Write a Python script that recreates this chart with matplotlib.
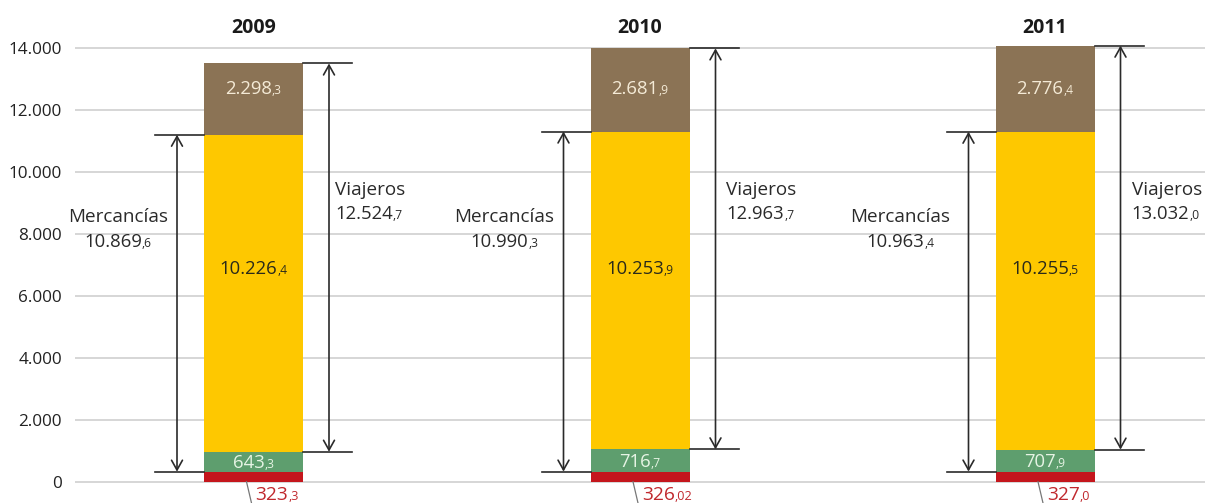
import matplotlib
matplotlib.use("Agg")
import matplotlib.pyplot as plt
from matplotlib.transforms import offset_copy
import numpy as np

# ---------------- data ----------------
years = ["2009", "2010", "2011"]
red_vals = [323.3, 326.02, 327.0]
red_decimals = [1, 2, 1]
green_vals = [643.3, 716.7, 707.9]
yellow_vals = [10226.4, 10253.9, 10255.5]
brown_vals = [2298.3, 2681.9, 2776.4]
mercancias = [10869.6, 10990.3, 10963.4]
viajeros = [12524.7, 12963.7, 13032.0]
yticks = [0, 2000, 4000, 6000, 8000, 10000, 12000, 14000]

# ---------------- layout / style ----------------
W, H, DPI = 1205, 503, 100
bar_pos = [253.5, 640.0, 1045.0]
merc_text_off = [86, 86, 95]
viaj_text_off = [32, 37, 37]
bar_w = 99
c_red, c_green, c_yellow, c_brown = "#c4161c", "#5e9e6e", "#fec800", "#8b7355"
line_c = "#2a2a2a"
FONT = "Open Sans"
plt.rcParams["font.family"] = [FONT, "DejaVu Sans"]

k = 434.0 / 14000.0          # pixels per unit
zero_px = 481.7               # pixel row (from top) of value 0
ymin = -(H - zero_px) / k
ymax = zero_px / k

fig = plt.figure(figsize=(W / DPI, H / DPI), dpi=DPI)
ax_left = 75
ax = fig.add_axes([ax_left / W, 0, 1 - ax_left / W, 1])
ax.set_xlim(ax_left, W)
ax.set_ylim(ymin, ymax)
for s in ax.spines.values():
    s.set_visible(False)
ax.set_xticks([])
ax.set_yticks(yticks)
ax.set_yticklabels([f"{t:,}".replace(",", ".") for t in yticks])
ax.tick_params(axis="y", length=0, pad=9.5, labelsize=12.3, labelcolor="#222222")
ax.yaxis.grid(True, color="#cbcbcb", lw=1.1)
ax.set_axisbelow(True)

# stacked bars
red = np.array(red_vals)
green = np.array(green_vals)
yellow = np.array(yellow_vals)
brown = np.array(brown_vals)
b1 = red
b2 = red + green
b3 = red + green + yellow
ax.bar(bar_pos, red, width=bar_w, color=c_red, zorder=2)
ax.bar(bar_pos, green, bottom=b1, width=bar_w, color=c_green, zorder=2)
ax.bar(bar_pos, yellow, bottom=b2, width=bar_w, color=c_yellow, zorder=2)
ax.bar(bar_pos, brown, bottom=b3, width=bar_w, color=c_brown, zorder=2)

renderer = fig.canvas.get_renderer()


def split_num(v, d):
    s = f"{v:,.{d}f}"
    main, dec = s.split(".")
    return main.replace(",", "."), "," + dec


def num_label(x, y, v, d, size, color, ha="center", small=0.66):
    """Number with a small decimal part; y is the vertical centre of the caps."""
    main, dec = split_num(v, d)
    cap = 0.714 * size * DPI / 72.0
    yoff = -cap / 2.0
    t1 = ax.text(x, y, main, fontsize=size, color=color, ha="left",
                 va="baseline", zorder=5)
    t2 = ax.text(x, y, dec, fontsize=size * small, color=color, ha="left",
                 va="baseline", zorder=5)
    w1 = t1.get_window_extent(renderer).width
    w2 = t2.get_window_extent(renderer).width
    if ha == "center":
        x0 = -(w1 + w2) / 2.0
    elif ha == "right":
        x0 = -(w1 + w2)
    else:
        x0 = 0.0
    t1.set_transform(offset_copy(ax.transData, x=x0, y=yoff, units="dots"))
    t2.set_transform(offset_copy(ax.transData, x=x0 + w1, y=yoff, units="dots"))
    return t1, t2


def px2v(py):
    return (zero_px - py) / k


arrow_style = "<->,head_length=0.5,head_width=0.28"

for i, x in enumerate(bar_pos):
    left = x - bar_w / 2
    right = x + bar_w / 2
    top = b3[i] + brown[i]

    # year
    ax.text(x, px2v(28), years[i], ha="center", va="center", fontsize=14,
            weight="bold", color="#1a1a1a")

    # segment labels
    num_label(x, px2v(87), brown_vals[i], 1, 13.3, "#f4ead6")
    num_label(x, px2v(267), yellow_vals[i], 1, 13.3, "#2a2a1a")
    num_label(x, (b1[i] + b2[i]) / 2, green_vals[i], 1, 13.3, "#e6f4e4")
    # red label under the bar with leader
    num_label(x + 2, px2v(493), red_vals[i], red_decimals[i], 13.8, "#c0282d",
              ha="left")
    ax.plot([x - 7, x - 2], [0, px2v(503)], color="#777777", lw=0.9,
            clip_on=False, zorder=4)

    # Mercancías bracket
    ax.plot([left - 49, left], [b3[i], b3[i]], color=line_c, lw=1.2, zorder=3)
    ax.plot([left - 49, left], [b1[i], b1[i]], color=line_c, lw=1.2, zorder=3)
    ax.annotate("", xy=(left - 27, b3[i]), xytext=(left - 27, b1[i]),
                arrowprops=dict(arrowstyle=arrow_style, color=line_c, lw=1.2,
                                shrinkA=0, shrinkB=0, mutation_scale=14),
                zorder=3)
    mx = left - merc_text_off[i]
    ax.text(mx, px2v(217), "Mercancías", ha="center", va="center",
            fontsize=13.6, color="#2a2a2a")
    num_label(mx, px2v(240), mercancias[i], 1, 13.3, "#2a2a2a")

    # Viajeros bracket
    ax.plot([right, right + 49], [top, top], color=line_c, lw=1.2, zorder=3)
    ax.plot([right, right + 49], [b2[i], b2[i]], color=line_c, lw=1.2, zorder=3)
    ax.annotate("", xy=(right + 26, top), xytext=(right + 26, b2[i]),
                arrowprops=dict(arrowstyle=arrow_style, color=line_c, lw=1.2,
                                shrinkA=0, shrinkB=0, mutation_scale=14),
                zorder=3)
    vx = right + viaj_text_off[i]
    ax.text(vx, px2v(190), "Viajeros", ha="left", va="center", fontsize=13.6,
            color="#2a2a2a")
    num_label(vx, px2v(212), viajeros[i], 1, 13.3, "#2a2a2a", ha="left")

fig.savefig("out.png", dpi=DPI)
